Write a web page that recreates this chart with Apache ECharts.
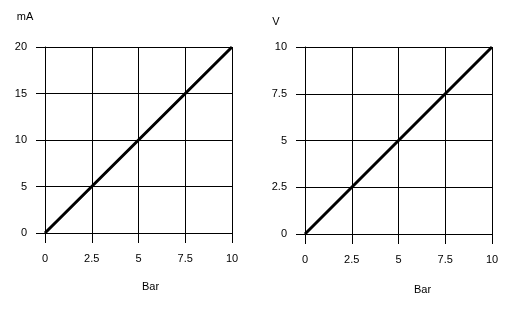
<!DOCTYPE html>
<html><head><meta charset="utf-8">
<script src="https://cdn.jsdelivr.net/npm/echarts@6/dist/echarts.min.js"></script>
<style>html,body{margin:0;padding:0;background:#fff}#c{width:532px;height:314px}</style>
</head><body><div id="c"></div>
<script>
const pressureBar = [0, 2.5, 5, 7.5, 10];
const currentMA = [0, 5, 10, 15, 20];
const voltageV = [0, 2.5, 5, 7.5, 10];
const xTicks = [0, 2.5, 5, 7.5, 10];
const yTicksMA = [0, 5, 10, 15, 20];
const yTicksV = [0, 2.5, 5, 7.5, 10];

const font = {fontFamily: 'Liberation Sans', fontSize: 11, color: '#000'};
function xAx(gi, pad) {
  return {
    type: 'value', gridIndex: gi, min: 0, max: 10, interval: 2.5,
    name: 'Bar', nameLocation: 'middle', nameGap: gi === 0 ? 48 : 50,
    nameTextStyle: Object.assign({}, font, {padding: [0, 0, 0, pad]}),
    axisLine: {show: true, lineStyle: {color: '#000', width: 1}},
    axisTick: {show: true, length: 10, lineStyle: {color: '#000'}},
    axisLabel: Object.assign({}, font, {margin: 20, formatter: v => String(v)}),
    splitLine: {show: true, lineStyle: {color: '#000', width: 1}}
  };
}
function yAx(gi, name, max, interval, padR, gap) {
  return {
    type: 'value', gridIndex: gi, min: 0, max: max, interval: interval,
    name: name, nameLocation: 'end', nameGap: gap,
    nameTextStyle: Object.assign({}, font, {padding: [0, padR, 0, 0]}),
    axisLine: {show: true, lineStyle: {color: '#000', width: 1}},
    axisTick: {show: true, length: 9, lineStyle: {color: '#000'}},
    axisLabel: Object.assign({}, font, {margin: 18, formatter: v => String(v)}),
    splitLine: {show: true, lineStyle: {color: '#000', width: 1}}
  };
}
const chart = echarts.init(document.getElementById('c'), null, {renderer: 'canvas'});
chart.setOption({
  animation: false,
  backgroundColor: '#fff',
  grid: [
    {left: 45, top: 47, width: 187, height: 186},
    {left: 305, top: 47, width: 187, height: 187}
  ],
  xAxis: [xAx(0, 24), xAx(1, 48)],
  yAxis: [yAx(0, 'mA', 20, 5, 40, 25), yAx(1, 'V', 10, 2.5, 58, 20)],
  series: [
    {type: 'line', xAxisIndex: 0, yAxisIndex: 0, data: pressureBar.map((x, i) => [x, currentMA[i]]),
     showSymbol: false, lineStyle: {color: '#000', width: 3}},
    {type: 'line', xAxisIndex: 1, yAxisIndex: 1, data: pressureBar.map((x, i) => [x, voltageV[i]]),
     showSymbol: false, lineStyle: {color: '#000', width: 3}}
  ]
});
</script></body></html>
